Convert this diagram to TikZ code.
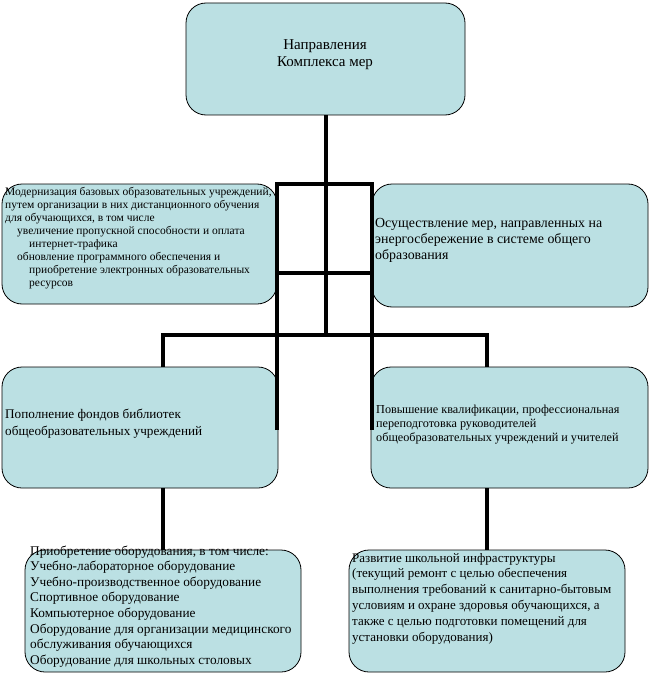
\documentclass[tikz,border=0pt]{standalone}
\usepackage{fontspec}
\setmainfont{Liberation Serif}
\definecolor{boxfill}{RGB}{187,224,227}
\tikzset{
  box/.style={draw=black, line width=0.8pt, fill=boxfill, rounded corners=20pt, inner sep=0pt},
  conn/.style={line width=4pt, line join=miter},
  tl/.style={inner sep=0pt, anchor=base west},
}
\begin{document}
\begin{tikzpicture}[x=1pt,y=-1pt]
\useasboundingbox (0,0) rectangle (650,674);
% boxes
\node[box, minimum width=279pt, minimum height=112pt] (top) at (325.5,59) {};
\node[box, minimum width=275pt, minimum height=120pt] (ml) at (139.5,244) {};
\node[box, minimum width=276pt, minimum height=123pt] (mr) at (510,245.5) {};
\node[box, minimum width=276pt, minimum height=121pt] (rl) at (140,427.5) {};
\node[box, minimum width=277pt, minimum height=121pt] (rr) at (509.5,427.5) {};
\node[box, minimum width=276pt, minimum height=122pt] (bl) at (163,611) {};
\node[box, minimum width=276pt, minimum height=122pt] (br) at (487,611) {};
% connectors
\coordinate (hub) at (324.5,335);
\coordinate (gridlow) at (0,273);
\coordinate (gridend) at (0,430);
\draw[conn] (top.south) -- (top.south |- hub);
\draw[conn] (bl.north |- rl.north) -- (bl.north |- hub) -- (br.north |- hub) -- (br.north |- rr.north);
\draw[conn] (ml.north east |- gridend) -- (ml.north east) -- (mr.north west) -- (mr.north west |- gridend);
\draw[conn] (ml.north east |- gridlow) -- (mr.north west |- gridlow);
\draw[conn] (bl.north) -- (bl.north |- rl.south);
\draw[conn] (br.north) -- (br.north |- rr.south);
% texts
\node[inner sep=0pt, anchor=base, font=\fontsize{15}{17}\selectfont] (t1) at (325,50) {Направления};
\node[inner sep=0pt, anchor=base, font=\fontsize{15}{17}\selectfont] (t2) at (325,67) {Комплекса мер};
\foreach \t [count=\i] in {
  {Модернизация базовых образовательных учреждений,},
  {путем организации в них дистанционного обучения},
  {для обучающихся, в том числе},
  {\hspace*{12pt}увеличение пропускной способности и оплата},
  {\hspace*{24pt}интернет-трафика},
  {\hspace*{12pt}обновление программного обеспечения и},
  {\hspace*{24pt}приобретение электронных образовательных},
  {\hspace*{24pt}ресурсов}}
  \node[tl, font=\fontsize{11.5}{13}\selectfont] (ml\i) at (5,{195+13*(\i-1)}) {\t};
\foreach \t [count=\i] in {
  {Осуществление мер, направленных на},
  {энергосбережение в системе общего},
  {образования}}
  \node[tl, font=\fontsize{13.9}{16}\selectfont] (mr\i) at (375,{227+16*(\i-1)}) {\t};
\foreach \t [count=\i] in {
  {Пополнение фондов библиотек},
  {общеобразовательных учреждений}}
  \node[tl, font=\fontsize{13.2}{17}\selectfont] (rl\i) at (5,{418+17*(\i-1)}) {\t};
\foreach \t [count=\i] in {
  {Повышение квалификации, профессиональная},
  {переподготовка руководителей},
  {общеобразовательных учреждений и учителей}}
  \node[tl, font=\fontsize{12.2}{14}\selectfont] (rr\i) at (376,{413+14*(\i-1)}) {\t};
\foreach \t [count=\i] in {
  {Приобретение оборудования, в том числе:},
  {Учебно-лабораторное оборудование},
  {Учебно-производственное оборудование},
  {Спортивное оборудование},
  {Компьютерное оборудование},
  {Оборудование для организации медицинского},
  {обслуживания обучающихся},
  {Оборудование для школьных столовых}}
  \node[tl, font=\fontsize{13.3}{15}\selectfont] (bl\i) at (30,{555+15.6*(\i-1)}) {\t};
\foreach \t [count=\i] in {
  {Развитие школьной инфраструктуры},
  {(текущий ремонт с целью обеспечения},
  {выполнения требований к санитарно-бытовым},
  {условиям и охране здоровья обучающихся, а},
  {также с целью подготовки помещений для},
  {установки оборудования)}}
  \node[tl, font=\fontsize{13}{15}\selectfont] (br\i) at (352,{562+15.8*(\i-1)}) {\t};
\end{tikzpicture}
\end{document}
